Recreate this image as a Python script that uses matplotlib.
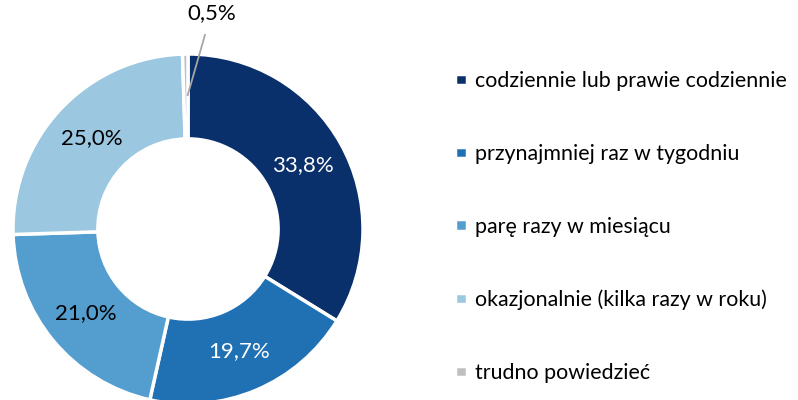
import numpy as np
import matplotlib.pyplot as plt

plt.rcParams["font.family"] = ["Lato", "DejaVu Sans"]

categories = [
    "codziennie lub prawie codziennie",
    "przynajmniej raz w tygodniu",
    "parę razy w miesiącu",
    "okazjonalnie (kilka razy w roku)",
    "trudno powiedzieć",
]
shares = [33.8, 19.7, 21.0, 25.0, 0.5]
colors = ["#0a306b", "#2070b4", "#539dcf", "#9bc8e0", "#bfbfbf"]
label_colors = ["white", "white", "black", "black", "black"]

W, H = 798, 400
fig = plt.figure(figsize=(W / 100, H / 100), dpi=100)

# donut centre (188, 229) px, outer radius 175 px
cx, cy, r = 188, 229, 175
ax = fig.add_axes([(cx - r) / W, (H - cy - r) / H, 2 * r / W, 2 * r / H])

wedges, _ = ax.pie(
    shares, colors=colors, startangle=90, counterclock=False, radius=1,
    wedgeprops=dict(width=0.485, edgecolor="white", linewidth=2.5),
)
ax.set_xlim(-1, 1)
ax.set_ylim(-1, 1)
ax.axis("off")

total = sum(shares)
start = 90.0
for i, v in enumerate(shares):
    mid = np.deg2rad(start - v / total * 180)
    start -= v / total * 360
    txt = f"{v:.1f}%".replace(".", ",")
    if i == len(shares) - 1:
        x0, y0 = 0.755 * np.cos(mid), 0.755 * np.sin(mid)
        ax.plot([x0 + 0.01, 0.097], [y0 + 0.01, 1.109], color="#a6a6a6", lw=1.3, clip_on=False)
        ax.text(0.137, 1.234, txt, ha="center", va="center", fontsize=16, color="black")
    else:
        ax.text(0.755 * np.cos(mid), 0.755 * np.sin(mid), txt, ha="center", va="center",
                fontsize=16, color=label_colors[i])

fig.legend(wedges, categories, loc="upper left", bbox_to_anchor=(455 / W, 1 - 71 / H),
           frameon=False, fontsize=15.4, handlelength=0.57, handleheight=0.42,
           handletextpad=0.35, labelspacing=2.47, borderpad=0, borderaxespad=0)

fig.savefig("out.png", dpi=100)
